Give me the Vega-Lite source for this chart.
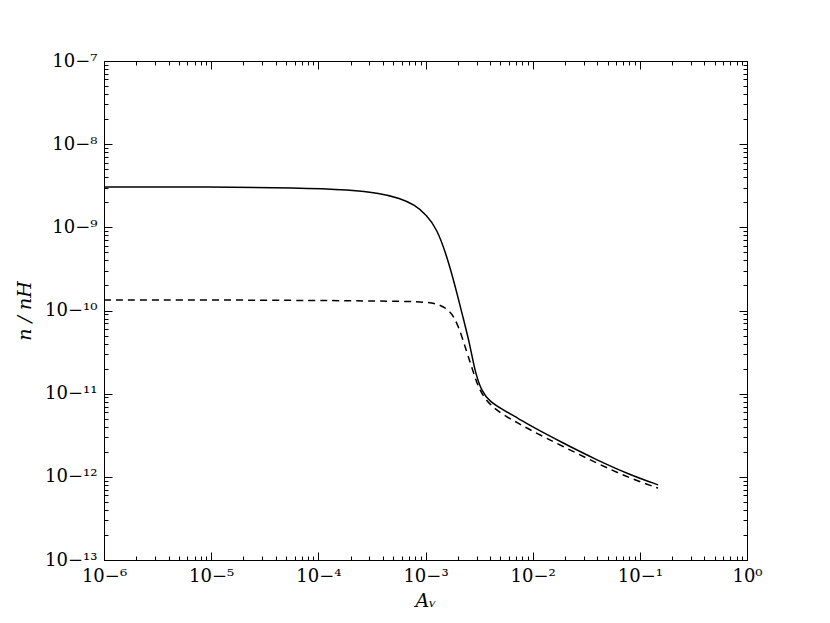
{
  "$schema": "https://vega.github.io/schema/vega-lite/v6.json",
  "width": 643,
  "height": 499,
  "autosize": {"type": "none"},
  "padding": {"left": 104, "top": 61, "right": 83, "bottom": 63},
  "background": "white",
  "config": {
    "view": {"stroke": "black", "strokeWidth": 1},
    "axis": {
      "grid": false,
      "domainColor": "black",
      "domainWidth": 1,
      "tickColor": "black",
      "tickWidth": 1,
      "labelFont": "DejaVu Serif",
      "labelFontSize": 18,
      "labelColor": "black",
      "titleFont": "DejaVu Serif",
      "titleFontSize": 19,
      "titleFontWeight": "normal",
      "titleFontStyle": "italic",
      "titleColor": "black",
      "labelFlush": false,
      "labelOverlap": false
    }
  },
  "datasets": {
    "solid": [
      {"x": 1e-6, "y": 3.06e-9},
      {"x": 7.87e-6, "y": 3.06e-9},
      {"x": 6.73e-5, "y": 3.00e-9},
      {"x": 1.97e-4, "y": 2.82e-9},
      {"x": 3.76e-4, "y": 2.57e-9},
      {"x": 5.77e-4, "y": 2.24e-9},
      {"x": 7.96e-4, "y": 1.86e-9},
      {"x": 1.02e-3, "y": 1.41e-9},
      {"x": 1.27e-3, "y": 9.75e-10},
      {"x": 1.57e-3, "y": 4.66e-10},
      {"x": 1.88e-3, "y": 2.03e-10},
      {"x": 2.25e-3, "y": 8.08e-11},
      {"x": 2.60e-3, "y": 3.86e-11},
      {"x": 2.89e-3, "y": 1.85e-11},
      {"x": 3.34e-3, "y": 1.06e-11},
      {"x": 3.99e-3, "y": 8.03e-12},
      {"x": 5.31e-3, "y": 6.38e-12},
      {"x": 7.60e-3, "y": 4.91e-12},
      {"x": 9.42e-3, "y": 4.15e-12},
      {"x": 1.93e-2, "y": 2.54e-12},
      {"x": 3.95e-2, "y": 1.60e-12},
      {"x": 8.07e-2, "y": 1.06e-12},
      {"x": 0.148, "y": 8.01e-13}
    ],
    "dashed": [
      {"x": 1e-6, "y": 1.34e-10},
      {"x": 1e-5, "y": 1.34e-10},
      {"x": 1e-4, "y": 1.32e-10},
      {"x": 3.76e-4, "y": 1.30e-10},
      {"x": 8.87e-4, "y": 1.28e-10},
      {"x": 1.27e-3, "y": 1.22e-10},
      {"x": 1.69e-3, "y": 1.02e-10},
      {"x": 2.02e-3, "y": 6.71e-11},
      {"x": 2.42e-3, "y": 3.21e-11},
      {"x": 2.78e-3, "y": 1.85e-11},
      {"x": 3.21e-3, "y": 1.06e-11},
      {"x": 3.99e-3, "y": 7.32e-12},
      {"x": 5.31e-3, "y": 5.56e-12},
      {"x": 7.33e-3, "y": 4.42e-12},
      {"x": 9.42e-3, "y": 3.67e-12},
      {"x": 1.93e-2, "y": 2.31e-12},
      {"x": 3.95e-2, "y": 1.46e-12},
      {"x": 8.07e-2, "y": 9.63e-13},
      {"x": 0.148, "y": 7.31e-13}
    ]
  },
  "layer": [
    {
      "data": {"name": "solid"},
      "mark": {"type": "line", "color": "black", "strokeWidth": 1.5, "interpolate": "basis", "clip": true},
      "encoding": {
        "x": {
          "field": "x", "type": "quantitative",
          "scale": {"type": "log", "domain": [1e-6, 1], "nice": false},
          "axis": {
            "orient": "bottom",
            "title": "Aᵥ",
            "titlePadding": 2,
            "values": [1e-6,2e-6,3e-6,4e-6,5e-6,6e-6,7e-6,8e-6,9e-6,1e-5,2e-5,3e-5,4e-5,5e-5,6e-5,7e-5,8e-5,9e-5,1e-4,2e-4,3e-4,4e-4,5e-4,6e-4,7e-4,8e-4,9e-4,1e-3,2e-3,3e-3,4e-3,5e-3,6e-3,7e-3,8e-3,9e-3,1e-2,2e-2,3e-2,4e-2,5e-2,6e-2,7e-2,8e-2,9e-2,0.1,0.2,0.3,0.4,0.5,0.6,0.7,0.8,0.9,1],
            "tickSize": {"condition": {"test": "abs(log(datum.value)/LN10 - round(log(datum.value)/LN10)) < 1e-6", "value": -8}, "value": -4},
            "labelPadding": 15,
            "labelExpr": "abs(log(datum.value)/LN10 - round(log(datum.value)/LN10)) < 1e-6 ? '10' + replace(replace(replace(replace(replace(replace(replace(replace(replace(replace(replace(replace(format(round(log(datum.value)/LN10), 'd'), '-', '⁻'), '0', '⁰'), '1', '¹'), '1', '¹'), '2', '²'), '3', '³'), '4', '⁴'), '5', '⁵'), '6', '⁶'), '7', '⁷'), '8', '⁸'), '9', '⁹') : ''"
          }
        },
        "y": {
          "field": "y", "type": "quantitative",
          "scale": {"type": "log", "domain": [1e-13, 1e-7], "nice": false},
          "axis": {
            "orient": "left",
            "title": "n / nH",
            "titlePadding": 10,
            "values": [1e-13,2e-13,3e-13,4e-13,5e-13,6e-13,7e-13,8e-13,9e-13,1e-12,2e-12,3e-12,4e-12,5e-12,6e-12,7e-12,8e-12,9e-12,1e-11,2e-11,3e-11,4e-11,5e-11,6e-11,7e-11,8e-11,9e-11,1e-10,2e-10,3e-10,4e-10,5e-10,6e-10,7e-10,8e-10,9e-10,1e-9,2e-9,3e-9,4e-9,5e-9,6e-9,7e-9,8e-9,9e-9,1e-8,2e-8,3e-8,4e-8,5e-8,6e-8,7e-8,8e-8,9e-8,1e-7],
            "tickSize": {"condition": {"test": "abs(log(datum.value)/LN10 - round(log(datum.value)/LN10)) < 1e-6", "value": -8}, "value": -4},
            "labelPadding": 15,
            "labelExpr": "abs(log(datum.value)/LN10 - round(log(datum.value)/LN10)) < 1e-6 ? '10' + replace(replace(replace(replace(replace(replace(replace(replace(replace(replace(replace(replace(format(round(log(datum.value)/LN10), 'd'), '-', '⁻'), '0', '⁰'), '1', '¹'), '1', '¹'), '2', '²'), '3', '³'), '4', '⁴'), '5', '⁵'), '6', '⁶'), '7', '⁷'), '8', '⁸'), '9', '⁹') : ''"
          }
        }
      }
    },
    {
      "data": {"name": "dashed"},
      "mark": {"type": "line", "color": "black", "strokeWidth": 1.5, "strokeDash": [7, 5], "interpolate": "basis", "clip": true},
      "encoding": {
        "x": {
          "field": "x", "type": "quantitative",
          "axis": {
            "orient": "top",
            "title": null,
            "labels": false,
            "values": [1e-6,2e-6,3e-6,4e-6,5e-6,6e-6,7e-6,8e-6,9e-6,1e-5,2e-5,3e-5,4e-5,5e-5,6e-5,7e-5,8e-5,9e-5,1e-4,2e-4,3e-4,4e-4,5e-4,6e-4,7e-4,8e-4,9e-4,1e-3,2e-3,3e-3,4e-3,5e-3,6e-3,7e-3,8e-3,9e-3,1e-2,2e-2,3e-2,4e-2,5e-2,6e-2,7e-2,8e-2,9e-2,0.1,0.2,0.3,0.4,0.5,0.6,0.7,0.8,0.9,1],
            "tickSize": {"condition": {"test": "abs(log(datum.value)/LN10 - round(log(datum.value)/LN10)) < 1e-6", "value": -8}, "value": -4}
          }
        },
        "y": {
          "field": "y", "type": "quantitative",
          "axis": {
            "orient": "right",
            "title": null,
            "labels": false,
            "values": [1e-13,2e-13,3e-13,4e-13,5e-13,6e-13,7e-13,8e-13,9e-13,1e-12,2e-12,3e-12,4e-12,5e-12,6e-12,7e-12,8e-12,9e-12,1e-11,2e-11,3e-11,4e-11,5e-11,6e-11,7e-11,8e-11,9e-11,1e-10,2e-10,3e-10,4e-10,5e-10,6e-10,7e-10,8e-10,9e-10,1e-9,2e-9,3e-9,4e-9,5e-9,6e-9,7e-9,8e-9,9e-9,1e-8,2e-8,3e-8,4e-8,5e-8,6e-8,7e-8,8e-8,9e-8,1e-7],
            "tickSize": {"condition": {"test": "abs(log(datum.value)/LN10 - round(log(datum.value)/LN10)) < 1e-6", "value": -8}, "value": -4}
          }
        }
      }
    }
  ],
  "resolve": {"axis": {"x": "independent", "y": "independent"}}
}
